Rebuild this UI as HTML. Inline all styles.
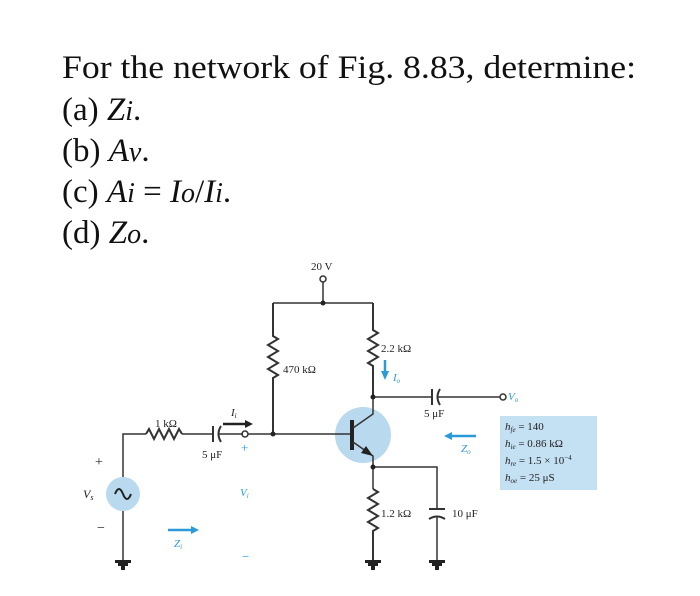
<!DOCTYPE html>
<html><head><meta charset="utf-8"><style>
html,body{margin:0;padding:0;background:#fff}
svg{display:block}
text{font-family:"Liberation Serif",serif}
</style></head><body>
<svg width="700" height="596" viewBox="0 0 700 596" xmlns="http://www.w3.org/2000/svg">
<g font-size="33" fill="#111">
<text x="62" y="78" textLength="574" lengthAdjust="spacingAndGlyphs">For the network of Fig. 8.83, determine:</text>
<text x="62" y="120">(a) <tspan font-style="italic">Z<tspan font-size="28">i</tspan></tspan>.</text>
<text x="62" y="161">(b) <tspan font-style="italic">A<tspan font-size="28">v</tspan></tspan>.</text>
<text x="62" y="202">(c) <tspan font-style="italic">A<tspan font-size="28">i</tspan></tspan> = <tspan font-style="italic">I<tspan font-size="28">o</tspan></tspan>/<tspan font-style="italic">I<tspan font-size="28">i</tspan></tspan>.</text>
<text x="62" y="243">(d) <tspan font-style="italic">Z<tspan font-size="28">o</tspan></tspan>.</text>
</g>
<circle cx="363" cy="435" r="28" fill="#b9d9ef"/>
<circle cx="123" cy="494" r="17" fill="#b9d9ef"/>
<rect x="500" y="416" width="97" height="74" fill="#c4e0f3"/>
<g stroke="#333" stroke-width="1.5" fill="none">
<circle cx="323" cy="279" r="3" fill="#fff"/>
<path d="M323 282V303M273 303H373"/>
<path d="M273 303V336 l5 3 -10 6 10 6 -10 6 10 6 -10 6 10 6 -5 3 V434" stroke-width="2"/>
<path d="M373 303V330 l5 3 -10 6 10 6 -10 6 10 6 -10 6 5 3 V397" stroke-width="2"/>
<path d="M248 434H352"/>
<circle cx="245" cy="434" r="3" fill="#fff"/>
<path d="M123 560V511M123 477V434H146 M182 434 H213M219 434H243"/>
<path d="M146 434 l3 -5 5 10 5 -10 5 10 5 -10 5 10 5 -10 3 5" stroke-width="2"/>
<path d="M213 426V442" stroke-width="2"/>
<path d="M221 426Q216 434 221 442" stroke-width="2"/>
<path d="M115 494q4 -10 8 0 q4 10 8 0" stroke="#222" stroke-width="2"/>
<path d="M352 420V450" stroke="#222" stroke-width="4"/>
<path d="M353 428L373 414V397M353 442L373 456V560"/>
<path d="M373 397H432M438 397H500"/>
<path d="M432 389V405" stroke-width="2"/>
<path d="M440 389Q435 397 440 405" stroke-width="2"/>
<circle cx="503" cy="397" r="3" fill="#fff"/>
<path d="M373 467H437V509M437 517V560"/>
<path d="M429 509H445" stroke-width="2"/>
<path d="M429 519Q437 514 445 519" stroke-width="2"/>
</g>
<rect x="366" y="489" width="14" height="46" fill="#fff"/>
<path d="M373 489 l5 3 -10 6 10 6 -10 6 10 6 -10 6 10 6 -5 3 V560" stroke="#333" stroke-width="2" fill="none"/>
<polygon points="373,456 361,453 366,446" fill="#222"/>
<g fill="#222">
<circle cx="323" cy="303" r="2.5"/><circle cx="273" cy="434" r="2.5"/>
<circle cx="373" cy="397" r="2.5"/><circle cx="373" cy="467" r="2.5"/>
</g>
<g fill="#222">
<path d="M115 560h16v3h-3v3h-3v4h-4v-4h-3v-3h-3z"/>
<path d="M365 560h16v3h-3v3h-3v4h-4v-4h-3v-3h-3z"/>
<path d="M429 560h16v3h-3v3h-3v4h-4v-4h-3v-3h-3z"/>
</g>
<path d="M223 424H247" stroke="#222" stroke-width="2.5"/><polygon points="253,424 245,420 245,428" fill="#222"/>
<path d="M385 360V373" stroke="#2a9bd6" stroke-width="2.5"/><polygon points="385,380 381,371 389,371" fill="#2a9bd6"/>
<path d="M450 436H476" stroke="#2a9bd6" stroke-width="2.5"/><polygon points="444,436 452,432 452,440" fill="#2a9bd6"/>
<path d="M168 530H192" stroke="#2a9bd6" stroke-width="2.5"/><polygon points="199,530 191,526 191,534" fill="#2a9bd6"/>
<g font-size="11" fill="#222">
<text x="311" y="270">20 V</text>
<text x="283" y="373">470 kΩ</text>
<text x="381" y="352">2.2 kΩ</text>
<text x="155" y="427">1 kΩ</text>
<text x="202" y="458">5 μF</text>
<text x="424" y="417">5 μF</text>
<text x="381" y="517">1.2 kΩ</text>
<text x="452" y="517">10 μF</text>
<text x="231" y="416" font-style="italic">I<tspan font-size="7" dy="2">i</tspan></text>
<text x="83" y="498" font-style="italic" font-size="12">V<tspan font-size="8" dy="2">s</tspan></text>
<text x="95" y="466" font-size="14">+</text>
<text x="97" y="532" font-size="14">−</text>
</g>
<g font-size="11" fill="#2a9bd6" font-style="italic">
<text x="393" y="381">I<tspan font-size="7" dy="2">o</tspan></text>
<text x="508" y="400">V<tspan font-size="7" dy="2">o</tspan></text>
<text x="461" y="452">Z<tspan font-size="7" dy="2">o</tspan></text>
<text x="240" y="496">V<tspan font-size="7" dy="2">i</tspan></text>
<text x="174" y="547">Z<tspan font-size="7" dy="2">i</tspan></text>
<text x="241" y="452" font-style="normal" font-size="13">+</text>
<text x="242" y="561" font-style="normal" font-size="13">−</text>
</g>
<g font-size="11" fill="#222">
<text x="505" y="430"><tspan font-style="italic">h<tspan font-size="7" dy="2">fe</tspan></tspan><tspan dy="-2"> = 140</tspan></text>
<text x="505" y="447"><tspan font-style="italic">h<tspan font-size="7" dy="2">ie</tspan></tspan><tspan dy="-2"> = 0.86 kΩ</tspan></text>
<text x="505" y="464"><tspan font-style="italic">h<tspan font-size="7" dy="2">re</tspan></tspan><tspan dy="-2"> = 1.5 × 10</tspan><tspan font-size="7" dy="-4">−4</tspan></text>
<text x="505" y="481"><tspan font-style="italic">h<tspan font-size="7" dy="2">oe</tspan></tspan><tspan dy="-2"> = 25 μS</tspan></text>
</g>
</svg>
</body></html>
